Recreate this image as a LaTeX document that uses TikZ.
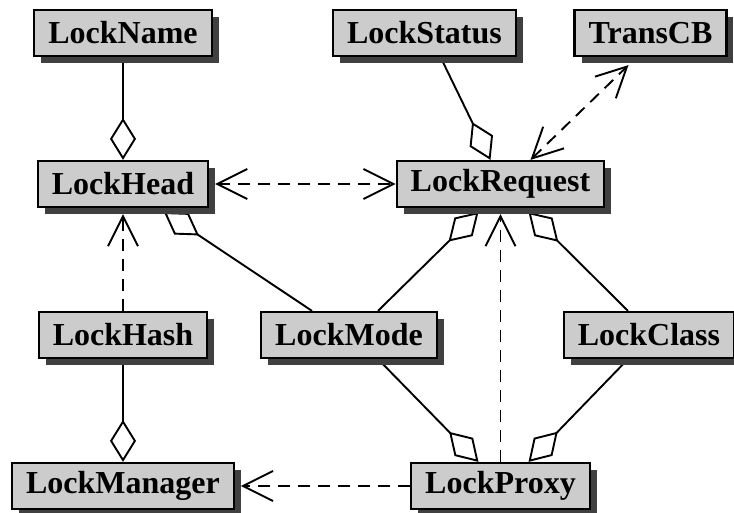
\documentclass[tikz,border=0pt]{standalone}
\usepackage{fontspec}
\setmainfont{Liberation Serif}
\usetikzlibrary{arrows.meta,shadows}
\pgfdeclarelayer{back}
\pgfsetlayers{back,main}
\tikzset{
  cls/.style={draw, line width=2.2pt, fill=black!20, minimum height=46pt, inner xsep=14pt,
    font=\bfseries\fontsize{32}{36}\selectfont,
    drop shadow={shadow xshift=7pt, shadow yshift=-7pt, fill=black!75, opacity=1}},
  link/.style={line width=1.9pt},
  aggr/.style={link, -{Diamond[fill=white, length=42pt, width=26pt]}},
  uses/.style={link, dash pattern=on 12pt off 8pt, -{Straight Barb[length=30pt, width=30pt]}},
  usesboth/.style={uses, {Straight Barb[length=30pt, width=30pt]}-{Straight Barb[length=30pt, width=30pt]}},
}
\begin{document}
\begin{tikzpicture}[x=1pt, y=-1pt]
  \useasboundingbox (0,0) rectangle (734,513);

  % Classes
  \node[cls] (name)   at (123,33)    {LockName};
  \node[cls] (status) at (424.5,33)  {LockStatus};
  \node[cls] (trans)  at (650.5,33)  {TransCB};
  \node[cls] (head)   at (123,184)   {LockHead};
  \node[cls] (req)    at (500.5,184) {LockRequest};
  \node[cls] (hash)   at (123,335)   {LockHash};
  \node[cls] (mode)   at (349,335)   {LockMode};
  \node[cls] (class)  at (649,335)   {LockClass};
  \node[cls] (mgr)    at (123,486)   {LockManager};
  \node[cls] (proxy)  at (500.5,486) {LockProxy};

  \begin{pgfonlayer}{back}
    % Aggregations
    \draw[aggr] (name) -- (head);
    \draw[aggr] (hash) -- (mgr);
    \draw[aggr] ([xshift=16pt]status.south) -- ([xshift=-10pt]req.north);
    \draw[aggr] ([xshift=-37pt]mode.north) -- ([xshift=41pt,yshift=-4pt]head.south);
    \draw[aggr] ([xshift=29pt]mode.north) -- ([xshift=-22pt,yshift=-4pt]req.south);
    \draw[aggr] ([xshift=-21pt]class.north) -- ([xshift=28pt,yshift=-4pt]req.south);
    \draw[aggr] ([xshift=29pt]mode.south) -- ([xshift=-22pt]proxy.north);
    \draw[aggr] ([xshift=-21pt]class.south) -- ([xshift=28pt]proxy.north);

    % Dependencies
    \draw[uses] (hash) -- ([yshift=-6pt]head.south);
    \draw[uses] (proxy) -- ([yshift=-6pt]req.south);
    \draw[uses] (proxy) -- ([xshift=6pt]mgr.east);
    \draw[usesboth] ([xshift=6pt]head.east) -- (req);
    \draw[usesboth] ([xshift=30pt]req.north) -- ([xshift=-22pt,yshift=-8pt]trans.south);
  \end{pgfonlayer}
\end{tikzpicture}
\end{document}
